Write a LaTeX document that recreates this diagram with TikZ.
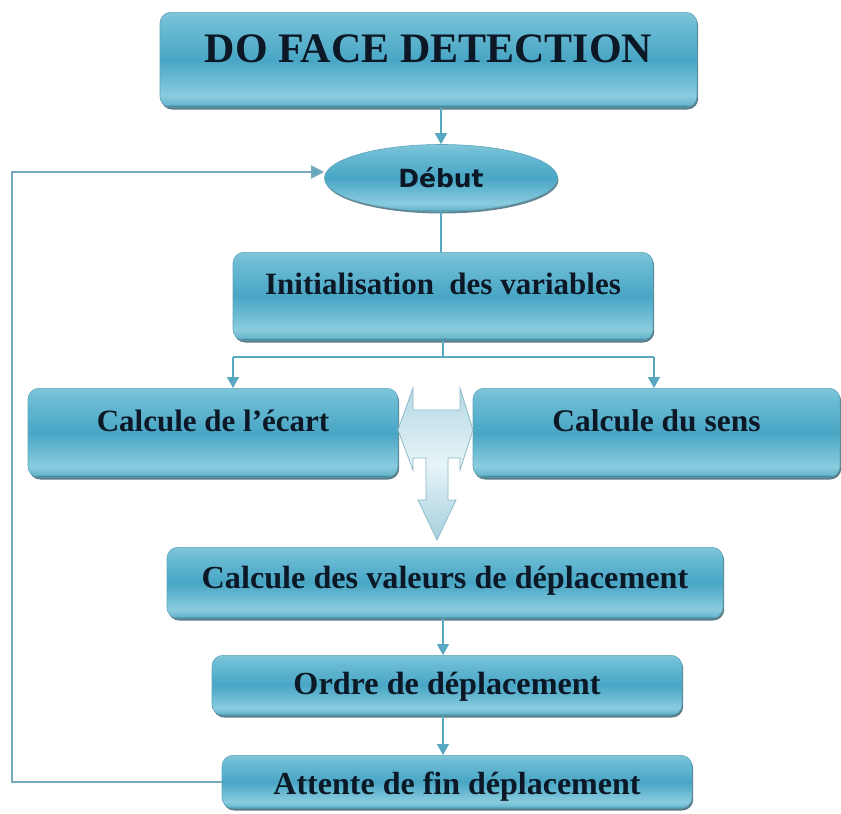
\documentclass[tikz,border=0pt]{standalone}
\usepackage{fontspec}
\setmainfont{Liberation Serif}
\newfontfamily\roundsans{DejaVu Sans}
\usetikzlibrary{arrows.meta,shapes.geometric,shadows}

% palette
\definecolor{bxtop}{RGB}{128,198,218}
\definecolor{bxhi}{RGB}{108,188,212}
\definecolor{bxmid}{RGB}{72,166,197}
\definecolor{bxlight}{RGB}{138,204,222}
\definecolor{bxlow}{RGB}{104,182,206}
\definecolor{bxedge}{RGB}{42,100,120}
\definecolor{bxline}{RGB}{95,165,188}
\definecolor{txt}{RGB}{12,24,38}
\definecolor{conn}{RGB}{88,168,194}
\definecolor{loopcol}{RGB}{118,170,186}
\definecolor{tlight}{RGB}{215,236,243}
\definecolor{tdark}{RGB}{165,208,222}
\definecolor{tline}{RGB}{140,186,202}

% vertical glossy fill used by all process boxes
\pgfdeclareverticalshading{boxshade}{100bp}{%
  color(0bp)=(bxedge); color(25bp)=(bxedge); color(26.5bp)=(bxlow);
  color(31bp)=(bxlight); color(50bp)=(bxmid); color(69bp)=(bxhi);
  color(75bp)=(bxtop); color(100bp)=(bxtop)}

\tikzset{
  procbox/.style={draw=bxline, line width=0.6pt, shading=boxshade,
    rounded corners=11pt, anchor=north, inner xsep=0pt, inner ysep=0pt,
    text=txt, align=center,
    drop shadow={shadow xshift=1.2pt, shadow yshift=-2.2pt,
      fill=bxedge!80!black, opacity=0.75}},
  startnode/.style={ellipse, draw=bxline, line width=0.6pt, shading=boxshade,
    minimum width=233pt, minimum height=67pt, inner sep=0pt, text=txt,
    font=\roundsans\bfseries\fontsize{25}{29}\selectfont,
    drop shadow={shadow xshift=1pt, shadow yshift=-2pt,
      fill=bxedge!80!black, opacity=0.7}},
  link/.style={draw=conn, line width=1.5pt},
  linkarrow/.style={link, -{Triangle[length=11pt,width=12pt]}},
  loopline/.style={draw=loopcol, line width=2pt,
    -{Triangle[length=13pt,width=13pt,fill=conn]}},
  teearrow/.style={draw=tline, line width=0.8pt, top color=tdark!70!tlight,
    bottom color=tdark, middle color=tlight!60!white}
}

\begin{document}
\begin{tikzpicture}[x=1pt,y=-1pt]
\useasboundingbox (0,0) rectangle (841,814);

% process boxes (anchor north at the top edge; text height/depth place the baseline)
\node[procbox, minimum width=537pt, text height=50.4pt, text depth=44.6pt,
  font=\bfseries\fontsize{42}{46}\selectfont] (detect) at (428.5,12) {DO FACE DETECTION};

\node[startnode] (debut) at (441,178) {Début};

\node[procbox, minimum width=420pt, text height=41.9pt, text depth=46.1pt,
  font=\bfseries\fontsize{31}{36}\selectfont] (init) at (443,252) {Initialisation\ \ des variables};

\node[procbox, minimum width=370pt, text height=42.9pt, text depth=46.1pt,
  font=\bfseries\fontsize{31}{36}\selectfont] (ecart) at (213,388) {Calcule de l’écart};

\node[procbox, minimum width=367pt, text height=42.9pt, text depth=46.1pt,
  font=\bfseries\fontsize{31.5}{36}\selectfont] (sens) at (656.5,388) {Calcule du sens};

\node[procbox, minimum width=556pt, text height=41.5pt, text depth=29.5pt,
  font=\bfseries\fontsize{32.2}{37}\selectfont] (valeurs) at (445,547) {Calcule des valeurs de déplacement};

\node[procbox, minimum width=470pt, text height=39.5pt, text depth=20.5pt,
  font=\bfseries\fontsize{32.2}{37}\selectfont] (ordre) at (447,655) {Ordre de déplacement};

\node[procbox, minimum width=470pt, text height=39.2pt, text depth=13.8pt,
  font=\bfseries\fontsize{32}{36}\selectfont] (attente) at (457,755) {Attente de fin déplacement};

% merging T-shaped block arrow between the two computations
\path[teearrow] (398,430) -- (413,388) -- (413,410) -- (460,410) -- (460,388)
  -- (473,430) -- (460,470) -- (460,458) -- (448,458) -- (448,500) -- (456,500)
  -- (437,540) -- (418,500) -- (426,500) -- (426,458) -- (413,458) -- (413,470) -- cycle;

% connectors
\draw[linkarrow] (debut.north |- detect.south) -- (debut.north);
\draw[link] (debut.south) -- (debut.south |- init.north);

\coordinate (split) at (443,357);
\coordinate (sl) at (233,357);
\coordinate (sr) at (654,357);
\draw[link] (init.south -| split) -- (split);
\draw[link] (sl) -- (sr);
\draw[linkarrow] (sl) -- (sl |- ecart.north);
\draw[linkarrow] (sr) -- (sr |- sens.north);

\coordinate (colx) at (443,0);
\draw[linkarrow] (colx |- valeurs.south) -- (colx |- ordre.north);
\draw[linkarrow] (colx |- ordre.south) -- (colx |- attente.north);

% return loop to the start
\coordinate (lc) at (12,172);
\draw[loopline] (attente.west) -| (lc) -- (debut.west |- lc);
\end{tikzpicture}
\end{document}
